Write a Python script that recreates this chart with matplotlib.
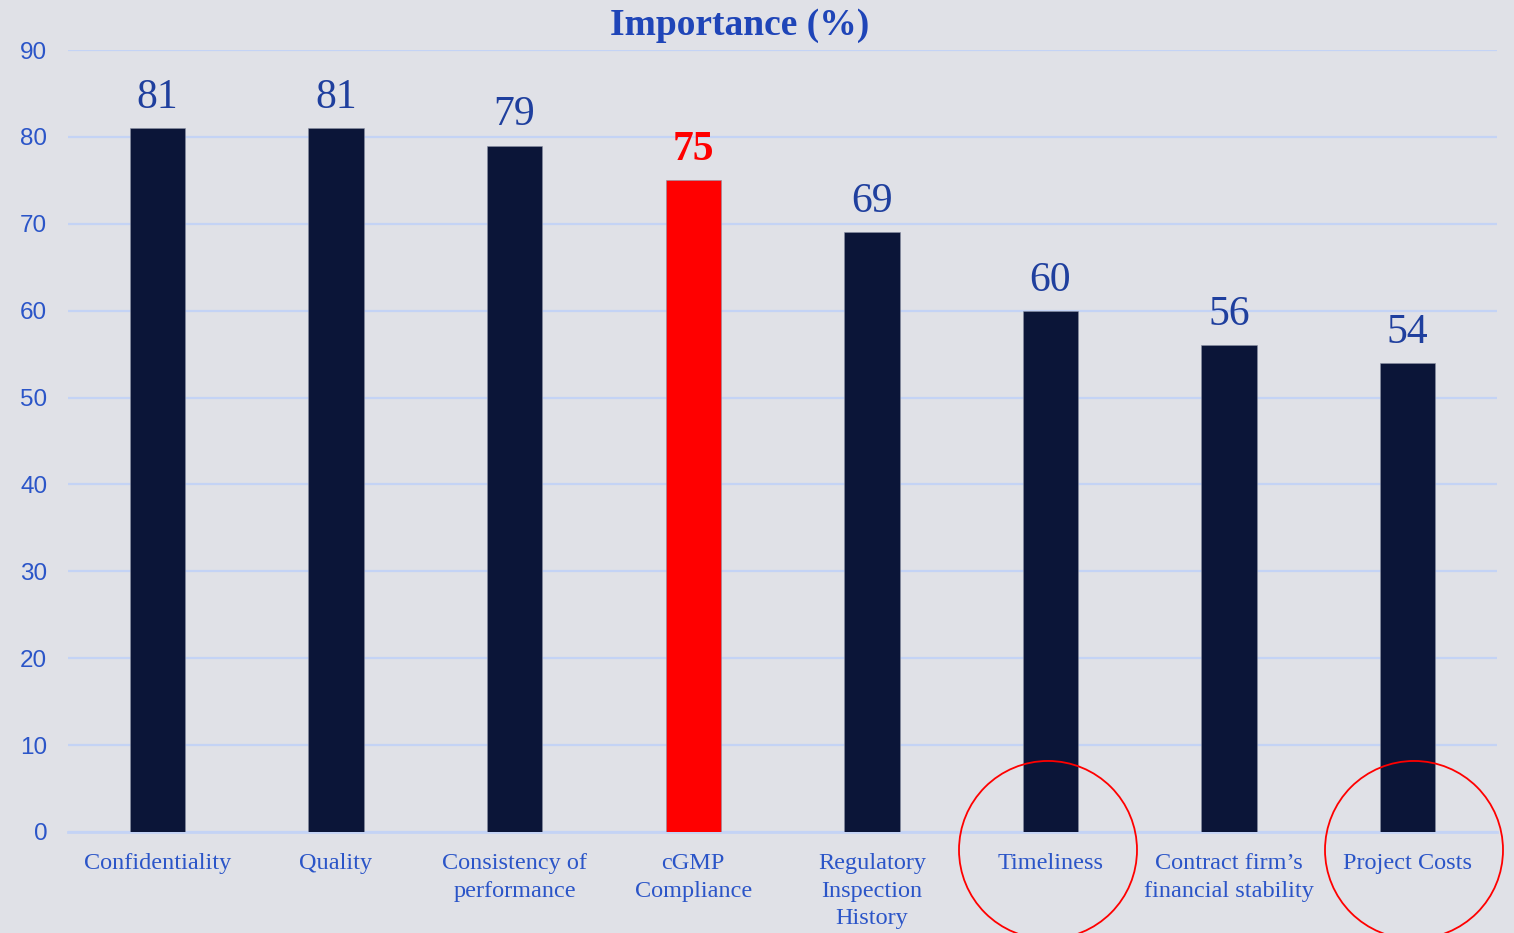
import numpy as np
import matplotlib
matplotlib.use("Agg")
import matplotlib.pyplot as plt
from matplotlib.patches import Ellipse

categories = ["Confidentiality", "Quality", "Consistency of\nperformance", "cGMP\nCompliance",
              "Regulatory\nInspection\nHistory", "Timeliness", "Contract firm\u2019s\nfinancial stability",
              "Project Costs"]
values = [81, 81, 79, 75, 69, 60, 56, 54]
highlight = "cGMP\nCompliance"
circled = ["Timeliness", "Project Costs"]

bg = "#e0e1e7"
navy = "#0b1538"
red = "#ff0000"
tick_blue = "#2b55c8"
label_blue = "#1f3f9e"
grid_blue = "#c4d3f5"

fig = plt.figure(figsize=(15.14, 9.33), dpi=100, facecolor=bg)
ax = fig.add_axes([0.0449, 0.1083, 0.9439, 0.8381], facecolor=bg)

x = np.arange(len(categories))
colors = [red if c == highlight else navy for c in categories]
bars = ax.bar(x, values, width=0.31, color=colors, edgecolor="#8a90a3", linewidth=0.4, zorder=3)

for xi, v, c in zip(x, values, categories):
    is_hl = c == highlight
    ax.annotate(str(v), (xi, v), xytext=(0, 8), textcoords="offset points",
                ha="center", va="bottom", fontsize=30, family="Liberation Serif",
                color=red if is_hl else label_blue, fontweight="bold" if is_hl else "normal")

ax.set_xlim(-0.5, len(categories) - 0.5)
ax.set_ylim(0, 90)
ax.set_yticks(np.arange(0, 91, 10))
ax.yaxis.grid(True, color=grid_blue, linewidth=1.6, zorder=0)
ax.axhline(0, color=grid_blue, linewidth=2, zorder=2, clip_on=False)
ax.set_axisbelow(True)
for s in ax.spines.values():
    s.set_visible(False)

ax.set_xticks(x)
ax.set_xticklabels(categories, fontsize=17.5, family="Liberation Serif", color=tick_blue, linespacing=1.42)
ax.tick_params(axis="x", length=0, pad=15)
ax.tick_params(axis="y", length=0, pad=15, labelsize=17.5, labelcolor=tick_blue)
for lbl in ax.get_yticklabels():
    lbl.set_family("Liberation Sans")

fig.text(0.4888, 0.973, "Importance (%)", ha="center", va="center", fontsize=27,
         family="Liberation Serif", fontweight="bold", color="#1f45b8")

# red circles around the two labels (centres, in pixels)
circle_x = [1048, 1414]
for cx in circle_x:
    e = Ellipse((cx / 1514, 0.089), 178 / 1514, 178 / 933, transform=fig.transFigure,
                fill=False, edgecolor=red, linewidth=1.3, clip_on=False)
    fig.add_artist(e)

fig.savefig("out.png", dpi=100, facecolor=bg)
